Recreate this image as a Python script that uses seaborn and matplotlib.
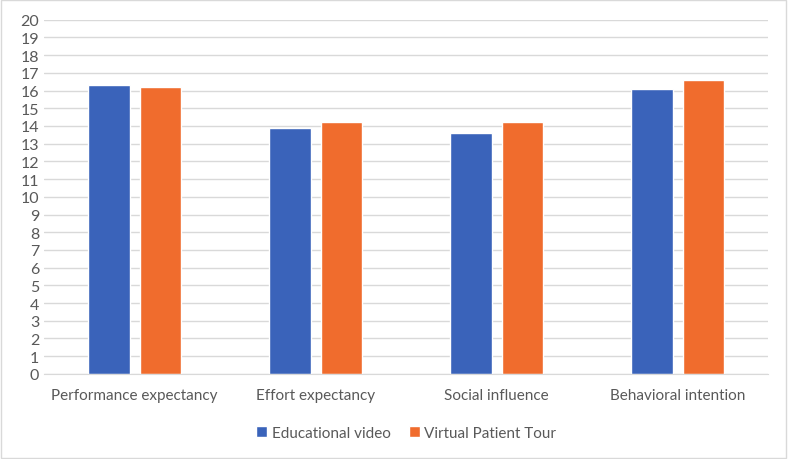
import seaborn as sns
import pandas as pd
import matplotlib.pyplot as plt
from matplotlib.patches import Rectangle

categories = ["Performance expectancy", "Effort expectancy", "Social influence", "Behavioral intention"]
educational_video = [16.3, 13.9, 13.6, 16.1]
virtual_patient_tour = [16.2, 14.2, 14.2, 16.6]
series = ["Educational video", "Virtual Patient Tour"]

df = pd.DataFrame({
    "category": categories * 2,
    "value": educational_video + virtual_patient_tour,
    "series": [series[0]] * 4 + [series[1]] * 4,
})

sns.set_style("white")
plt.rcParams["font.family"] = ["Lato", "DejaVu Sans"]

fig = plt.figure(figsize=(7.88, 4.6), dpi=100)
ax = fig.add_axes([0.056, 0.185, 0.919, 0.77])

sns.barplot(data=df, x="category", y="value", hue="series",
            palette=["#3A63BA", "#F06C2D"], width=0.567, gap=0.19,
            saturation=1, ax=ax, legend=True)

ax.set_ylim(0, 20)
ax.set_yticks(range(0, 21))
ax.yaxis.grid(True, color="#d9d9d9", linewidth=1)
ax.set_axisbelow(True)
for s in ["top", "right", "left"]:
    ax.spines[s].set_visible(False)
ax.spines["bottom"].set_color("#d9d9d9")
ax.tick_params(axis="both", length=0, colors="#595959", labelsize=11)
ax.tick_params(axis="y", labelsize=11.5)
ax.tick_params(axis="x", pad=10)
ax.set_xlabel("")
ax.set_ylabel("")

ax.legend(loc="upper center", bbox_to_anchor=(0.5, -0.107), ncol=2, frameon=False,
          fontsize=11, handlelength=0.7, handleheight=0.7, handletextpad=0.3,
          columnspacing=1.2, labelcolor="#595959")

fig.patches.append(Rectangle((0.001, 0.002), 0.997, 0.995, transform=fig.transFigure,
                             fill=False, edgecolor="#d9d9d9", linewidth=1))

fig.savefig("out.png", dpi=100)
